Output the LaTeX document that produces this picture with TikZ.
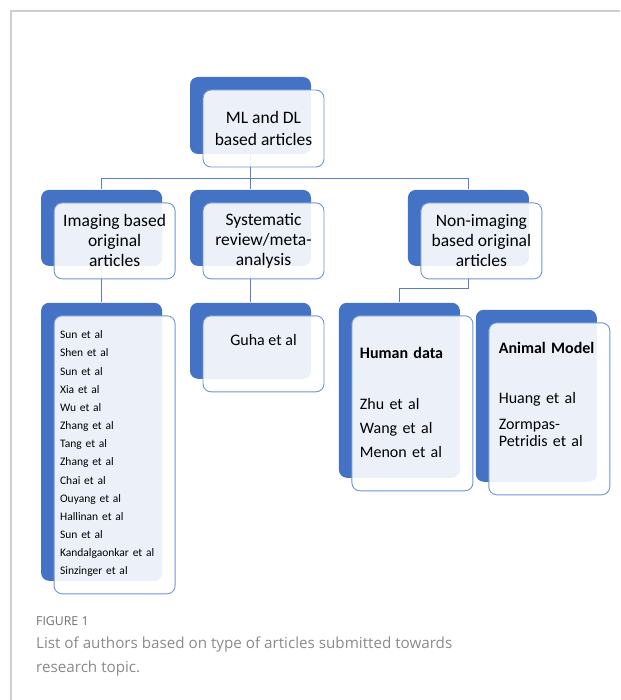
\documentclass[tikz,border=0pt]{standalone}
\usepackage{fontspec}
\setmainfont{Carlito}
\newfontfamily\capfont{Open Sans}
\usetikzlibrary{positioning,shadows,backgrounds}
\definecolor{boxBlue}{HTML}{4472C4}
\definecolor{edgeBlue}{HTML}{6F93D6}
\definecolor{linkBlue}{HTML}{5B7DC2}
\definecolor{frameGrey}{HTML}{CFCFCF}
\definecolor{capGrey}{HTML}{8A8A8A}
\definecolor{figGrey}{HTML}{6E6E6E}

\begin{document}
\begin{tikzpicture}[
    x=1pt, y=-1pt,
    box/.style={rounded corners=8pt, draw=edgeBlue, line width=0.9pt,
      fill=white, fill opacity=0.9, text opacity=1, minimum width=121pt,
      drop shadow={shadow xshift=-13pt, shadow yshift=13pt, fill=boxBlue, opacity=1}},
    head/.style={box, minimum height=76pt, align=center, font=\fontsize{17.5}{20}\selectfont},
    names/.style={box, align=left, inner ysep=0pt},
    link/.style={draw=linkBlue, line width=0.8pt},
    frame/.style={draw=frameGrey, line width=1.2pt},
  ]
\useasboundingbox (0,0) rectangle (620,700);
\draw[frame] (11,700) |- (620,11);

% ===== top level =====
\node[head, minimum height=77pt, font=\fontsize{17.5}{22}\selectfont] (root) at (263.5,128.5) {ML and DL\\based articles};

% ===== article types =====
\node[head, below=35pt of root] (sys) {Systematic\\review/meta-\\analysis};
\node[head, left=27pt of sys] (img) {Imaging based\\original\\articles};
\node[head, right=96pt of sys] (nonimg) {Non-imaging\\based original\\articles};

% ===== authors =====
\node[names, below=36pt of img, text width=109pt, inner xsep=6pt,
  text height=23pt, text depth=255pt, font=\fontsize{11.5}{18.15}\selectfont] (list)
  {Sun et al\\Shen et al\\Sun et al\\Xia et al\\Wu et al\\Zhang et al\\Tang et al\\Zhang et al\\Chai et al\\Ouyang et al\\Hallinan et al\\Sun et al\\Kandalgaonkar et al\\Sinzinger et al};
\node[box, below=36pt of sys, inner ysep=0pt, text height=30pt, text depth=46pt,
  font=\fontsize{16}{19}\selectfont] (guha) {Guha et al};
\node[names, below=36pt of nonimg, xshift=-69pt, text width=105pt, inner xsep=8pt,
  text height=43pt, text depth=132pt, font=\fontsize{16}{24}\selectfont] (human)
  {\textbf{Human data}\\[27pt]Zhu et al\\Wang et al\\Menon et al};
\node[names, right=15pt of human, yshift=-5.5pt, text width=101pt, inner xsep=10pt,
  text height=31pt, text depth=141pt, font=\fontsize{16}{17}\selectfont] (animal)
  {\textbf{Animal Model}\\[33pt]Huang et al\\[9pt]Zormpas-\\Petridis et al};

% connectors (behind the boxes)
\begin{scope}[on background layer]
\draw[link] ([xshift=-13pt,yshift=13pt]root.south) -- ++(0,-24pt) -| ([xshift=-13pt,yshift=13pt]img.north);
\draw[link] ([xshift=-13pt,yshift=13pt]root.south) -- ([xshift=-13pt,yshift=13pt]sys.north);
\draw[link] ([xshift=-13pt,yshift=13pt]root.south) -- ++(0,-24pt) -| ([xshift=-13pt,yshift=13pt]nonimg.north);
\draw[link] ([xshift=-13pt,yshift=13pt]img.south) -- ([xshift=-13pt,yshift=13pt]list.north);
\draw[link] ([xshift=-13pt,yshift=13pt]sys.south) -- ([xshift=-13pt,yshift=13pt]guha.north);
\draw[link] ([xshift=-13pt,yshift=13pt]nonimg.south) -- ++(0,-22pt) -| ([xshift=-13pt,yshift=13pt]human.north);
\end{scope}

% caption
\node[anchor=base west, inner sep=0pt, text=figGrey, font=\capfont\fontsize{12.3}{15}\selectfont] (figno) at (36,625) {FIGURE 1};
\node[anchor=north west, inner sep=0pt, align=left, text=capGrey, font=\capfont\fontsize{15.2}{24}\selectfont] (figcap) at (36,636.5)
  {List of authors based on type of articles submitted towards\\research topic.};

\end{tikzpicture}
\end{document}
